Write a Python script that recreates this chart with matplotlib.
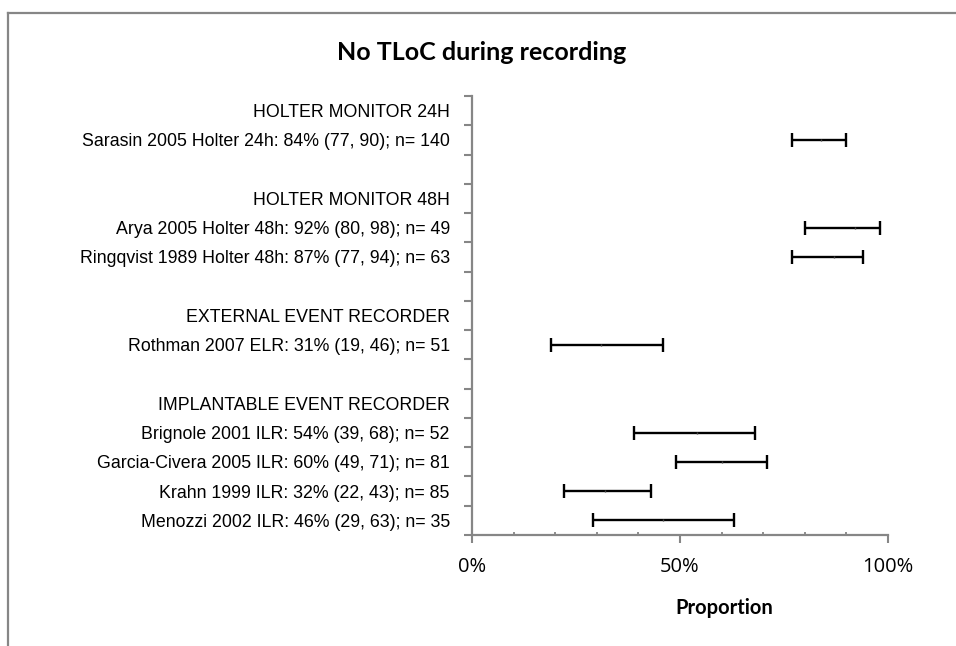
import matplotlib
matplotlib.use("Agg")
import matplotlib.pyplot as plt
from matplotlib.lines import Line2D

# Data (rows from top to bottom); None marks header / blank rows
row_labels = [
    "HOLTER MONITOR 24H",
    "Sarasin 2005 Holter 24h: 84% (77, 90); n= 140",
    "",
    "HOLTER MONITOR 48H",
    "Arya 2005 Holter 48h: 92% (80, 98); n= 49",
    "Ringqvist 1989 Holter 48h: 87% (77, 94); n= 63",
    "",
    "EXTERNAL EVENT RECORDER",
    "Rothman 2007 ELR: 31% (19, 46); n= 51",
    "",
    "IMPLANTABLE EVENT RECORDER",
    "Brignole 2001 ILR: 54% (39, 68); n= 52",
    "Garcia-Civera 2005 ILR: 60% (49, 71); n= 81",
    "Krahn 1999 ILR: 32% (22, 43); n= 85",
    "Menozzi 2002 ILR: 46% (29, 63); n= 35",
]
estimate = [None, 84, None, None, 92, 87, None, None, 31, None, None, 54, 60, 32, 46]
lower    = [None, 77, None, None, 80, 77, None, None, 19, None, None, 39, 49, 22, 29]
upper    = [None, 90, None, None, 98, 94, None, None, 46, None, None, 68, 71, 43, 63]
x_ticks = [0, 50, 100]
x_tick_labels = ["0%", "50%", "100%"]

W, H = 956, 646
fig = plt.figure(figsize=(W / 100, H / 100), dpi=100)
ax = fig.add_axes([472 / W, 1 - 535 / H, (888 - 472) / W, (535 - 96) / H])

n = len(row_labels)
axis_gray = "#868686"
for i, (e, lo, hi) in enumerate(zip(estimate, lower, upper)):
    if e is None:
        continue
    y = n - 1 - i
    ax.errorbar([e], [y], xerr=[[e - lo], [hi - e]], fmt="none", ecolor="black",
                elinewidth=1.7, capsize=4.7, capthick=1.7)
    ax.plot([e], [y], marker="|", color="#444444", markersize=1.6, mew=1)

ax.set_xlim(0, 100)
ax.set_ylim(-0.5, n - 0.5)
ax.set_yticks([n - 1 - i for i in range(n)])
ax.set_yticklabels(row_labels, fontsize=12.8, family="Liberation Sans")
ax.tick_params(axis="y", which="major", length=0, pad=16)
ax.set_yticks([k - 0.5 for k in range(n + 1)], minor=True)
ax.tick_params(axis="y", which="minor", length=5.8, width=1.5, color=axis_gray)

ax.set_xticks(x_ticks)
ax.set_xticklabels(x_tick_labels, fontsize=14.5, family="Open Sans")
ax.set_xticks(range(0, 101, 10), minor=True)
ax.tick_params(axis="x", which="major", length=6, width=1.5, color=axis_gray,
               direction="out", pad=10)
ax.tick_params(axis="x", which="minor", length=2.2, width=1.3, color=axis_gray,
               direction="in")

for s in ["top", "right"]:
    ax.spines[s].set_visible(False)
for s in ["left", "bottom"]:
    ax.spines[s].set_color(axis_gray)
    ax.spines[s].set_linewidth(1.6)

fig.text(724 / W, 1 - 608 / H, "Proportion", ha="center", va="center",
         fontsize=14.5, fontweight="bold", family="Lato")
fig.text(482 / W, 1 - 52 / H, "No TLoC during recording",
         ha="center", va="center", fontsize=18, fontweight="bold", family="Lato")

# outer frame (top and left edges)
fig.add_artist(Line2D([8 / W, 1.0], [1 - 13 / H, 1 - 13 / H], color=axis_gray, lw=1.6,
                      transform=fig.transFigure))
fig.add_artist(Line2D([8 / W, 8 / W], [0, 1 - 13 / H], color=axis_gray, lw=1.6,
                      transform=fig.transFigure))

fig.savefig("out.png", dpi=100, facecolor="white")
